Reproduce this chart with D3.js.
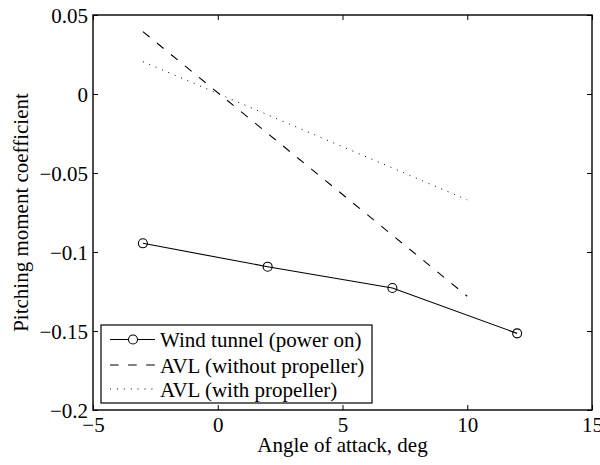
<!DOCTYPE html>
<html lang="en">
<head>
    <script src="https://d3js.org/d3.v7.min.js"></script>
</head>
<style>
    body { margin: 0; background: #fff; }
    text { font-family: "Liberation Serif", "Times New Roman", serif; }
</style>
<body>
<script>
    const w = 600
    const h = 465

    // wind tunnel (power on)
    const tunnelAlpha = [-3, 2, 7, 12]
    const tunnelCm = [-0.0945, -0.1093, -0.1228, -0.1515]

    // AVL without propeller
    const avlAlpha = [-3, 10]
    const avlCm = [0.0395, -0.128]

    // AVL with propeller
    const avlPropAlpha = [-3, 10]
    const avlPropCm = [0.0205, -0.067]

    const xTicks = [-5, 0, 5, 10, 15]
    const yTicks = [-0.2, -0.15, -0.1, -0.05, 0, 0.05]
    const yTickLabels = ["\u22120.2", "\u22120.15", "\u22120.1", "\u22120.05", "0", "0.05"]
    const legendLabels = ["Wind tunnel (power on)", "AVL (without propeller)", "AVL (with propeller)"]

    // plot box
    const boxL = 93, boxR = 592, boxT = 15, boxB = 410
    const fs = 21

    let svg = d3.select("body")
        .append("svg")
        .attr("width", w)
        .attr("height", h)

    let xScale = d3.scaleLinear().domain([-5, 15]).range([boxL, boxR])
    let yScale = d3.scaleLinear().domain([-0.2, 0.05]).range([boxB, boxT])

    let fmtX = d => d < 0 ? "\u2212" + Math.abs(d) : "" + d
    let fmtY = d => yTickLabels[yTicks.indexOf(d)]

    // ticks point inward like matlab
    let axB = d3.axisBottom(xScale).tickValues(xTicks).tickFormat(fmtX).tickSizeInner(-5).tickSizeOuter(0).tickPadding(7)
    let axT = d3.axisTop(xScale).tickValues(xTicks).tickFormat("").tickSizeInner(-5).tickSizeOuter(0)
    let axL = d3.axisLeft(yScale).tickValues(yTicks).tickFormat(fmtY).tickSizeInner(-5).tickSizeOuter(0).tickPadding(5)
    let axR = d3.axisRight(yScale).tickValues(yTicks).tickFormat("").tickSizeInner(-5).tickSizeOuter(0)

    let gB = svg.append("g").attr("transform", "translate(0," + boxB + ")").call(axB)
    let gT = svg.append("g").attr("transform", "translate(0," + boxT + ")").call(axT)
    let gL = svg.append("g").attr("transform", "translate(" + boxL + ",0)").call(axL)
    let gR = svg.append("g").attr("transform", "translate(" + boxR + ",0)").call(axR)

    for (let g of [gB, gT, gL, gR]) {
        g.select(".domain").remove()
        g.selectAll(".tick line").attr("stroke", "#000")
        g.selectAll("text")
            .attr("font-family", "Liberation Serif")
            .attr("font-size", fs)
            .attr("fill", "#000")
    }
    gL.selectAll("text").attr("dy", "0.37em")

    // frame
    svg.append("rect")
        .attr("x", boxL).attr("y", boxT)
        .attr("width", boxR - boxL).attr("height", boxB - boxT)
        .attr("fill", "none")
        .attr("stroke", "#000")
        .attr("stroke-width", 1.4)

    let line = d3.line().x(d => xScale(d[0])).y(d => yScale(d[1]))

    // AVL dashed
    svg.append("path")
        .datum(avlAlpha.map((a, i) => [a, avlCm[i]]))
        .attr("d", line)
        .attr("fill", "none")
        .attr("stroke", "#000")
        .attr("stroke-width", 1.1)
        .attr("stroke-dasharray", "8.6,9.5")

    // AVL dotted
    svg.append("path")
        .datum(avlPropAlpha.map((a, i) => [a, avlPropCm[i]]))
        .attr("d", line)
        .attr("fill", "none")
        .attr("stroke", "#000")
        .attr("stroke-width", 1)
        .attr("stroke-dasharray", "1,5.9")

    // wind tunnel
    let tunnel = tunnelAlpha.map((a, i) => [a, tunnelCm[i]])
    svg.append("path")
        .datum(tunnel)
        .attr("d", line)
        .attr("fill", "none")
        .attr("stroke", "#000")
        .attr("stroke-width", 1.1)

    svg.selectAll("circle.pt")
        .data(tunnel)
        .enter()
        .append("circle")
        .attr("class", "pt")
        .attr("cx", d => xScale(d[0]))
        .attr("cy", d => yScale(d[1]))
        .attr("r", 4.5)
        .attr("fill", "none")
        .attr("stroke", "#000")
        .attr("stroke-width", 1.1)

    // axis labels
    svg.append("text")
        .attr("x", (boxL + boxR) / 2)
        .attr("y", 452)
        .attr("text-anchor", "middle")
        .attr("font-size", fs)
        .text("Angle of attack, deg")

    svg.append("text")
        .attr("transform", "translate(28," + (boxT + boxB) / 2 + ") rotate(-90)")
        .attr("text-anchor", "middle")
        .attr("font-size", fs)
        .text("Pitching moment coefficient")

    // legend
    let lg = svg.append("g")
    lg.append("rect")
        .attr("x", 101).attr("y", 325)
        .attr("width", 271).attr("height", 78)
        .attr("fill", "#fff")
        .attr("stroke", "#000")
        .attr("stroke-width", 1.2)

    let rowY = [339.5, 365, 389]
    let dashes = [null, "8.6,9.5", "1,5.9"]
    legendLabels.forEach((lab, i) => {
        lg.append("line")
            .attr("x1", 110).attr("x2", 155)
            .attr("y1", rowY[i]).attr("y2", rowY[i])
            .attr("stroke", "#000")
            .attr("stroke-width", 1.1)
            .attr("stroke-dasharray", dashes[i])
        lg.append("text")
            .attr("x", 160)
            .attr("y", rowY[i] + 7.8)
            .attr("font-size", fs)
            .text(lab)
    })
    lg.append("circle")
        .attr("cx", 133).attr("cy", rowY[0])
        .attr("r", 4.5)
        .attr("fill", "#fff")
        .attr("stroke", "#000")
        .attr("stroke-width", 1.1)
</script>
</body>
</html>
